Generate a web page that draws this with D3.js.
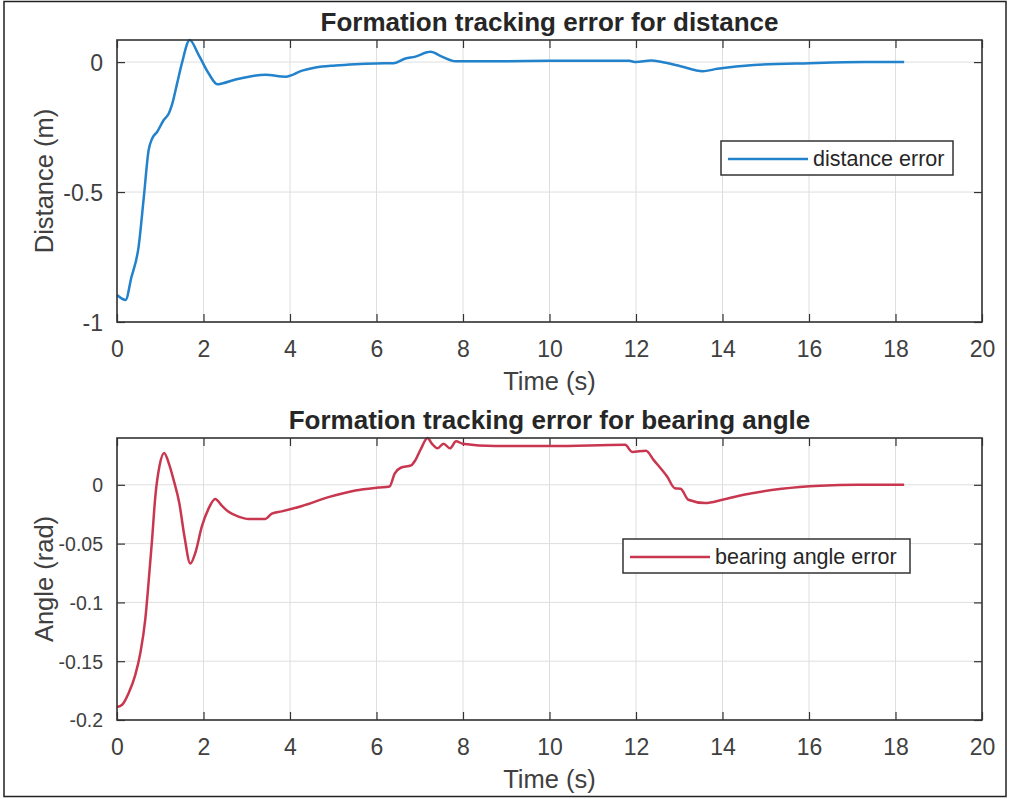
<!DOCTYPE html>
<html><head><meta charset="utf-8">
<script src="https://cdn.jsdelivr.net/npm/d3@7"></script>
<style>
html,body{margin:0;padding:0;background:#fff;}
svg{display:block;font-family:"Liberation Sans",Arial,Helvetica,sans-serif;}
</style></head>
<body>
<svg id="c" width="1010" height="799"></svg>
<script>
// ---- data ----
const distTime = [0,0.2,0.33,0.5,0.62,0.73,0.81,0.93,1.08,1.2,1.27,1.39,1.5,1.68,1.89,2.12,2.32,2.43,2.74,3.05,3.43,3.9,4.28,4.59,5.05,5.51,5.98,6.4,6.67,6.9,7.17,7.25,7.5,7.83,8.77,10.05,11.84,12.0,12.35,12.6,13.03,13.54,13.88,14.73,16.01,17.29,18.2];
const distError = [-0.896,-0.915,-0.83,-0.71,-0.52,-0.34,-0.295,-0.268,-0.223,-0.197,-0.165,-0.082,-0.005,0.085,0.027,-0.044,-0.085,-0.082,-0.067,-0.056,-0.049,-0.056,-0.033,-0.021,-0.013,-0.008,-0.005,-0.004,0.014,0.021,0.038,0.04,0.022,0.003,0.003,0.005,0.005,0.0,0.006,0.0,-0.016,-0.035,-0.026,-0.011,-0.004,0.0,0.0];
const angTime = [0,0.12,0.27,0.42,0.54,0.655,0.73,0.81,0.886,0.98,1.09,1.2,1.31,1.44,1.56,1.695,1.81,1.965,2.12,2.27,2.43,2.58,2.81,3.04,3.43,3.58,3.81,4.28,4.89,5.51,6.05,6.3,6.42,6.56,6.8,6.9,7.02,7.18,7.28,7.41,7.55,7.7,7.84,7.99,8.74,10.07,11.75,11.91,12.23,12.41,12.72,12.9,13.03,13.21,13.6,14.0,14.49,15.37,16.26,17.14,18.2];
const angError = [-0.189,-0.187,-0.177,-0.162,-0.143,-0.114,-0.083,-0.047,-0.010,0.0155,0.027,0.018,0.004,-0.0155,-0.044,-0.067,-0.058,-0.035,-0.020,-0.012,-0.018,-0.023,-0.027,-0.029,-0.029,-0.0245,-0.0226,-0.018,-0.0105,-0.0048,-0.0023,-0.0014,0.0095,0.0145,0.0165,0.021,0.030,0.0398,0.035,0.031,0.035,0.031,0.037,0.035,0.033,0.033,0.034,0.028,0.029,0.021,0.007,-0.003,-0.0034,-0.0127,-0.0155,-0.0127,-0.0085,-0.0034,-0.0008,0.0,0.0];
const xTicks = [0,2,4,6,8,10,12,14,16,18,20];
const xTickLabels = ["0","2","4","6","8","10","12","14","16","18","20"];
const distYTicks = [-1,-0.5,0];
const distYTickLabels = ["-1","-0.5","0"];
const angYTicks = [-0.2,-0.15,-0.1,-0.05,0];
const angYTickLabels = ["-0.2","-0.15","-0.1","-0.05","0"];

const svg = d3.select("#c");
svg.append("rect").attr("x",4).attr("y",1.5).attr("width",1002).attr("height",795)
  .attr("fill","#fff").attr("stroke","#222").attr("stroke-width",1.5);

function panel(o){
  const L=117,R=982,T=o.top,B=o.top+282;
  const x=d3.scaleLinear().domain([0,20]).range([L,R]);
  const y=d3.scaleLinear().domain([o.ymin,d3.max(o.vals)]).range([B,T]);
  const g=svg.append("g");
  // grid
  g.selectAll(".gx").data(o.xt).join("line").attr("x1",d=>x(d)).attr("x2",d=>x(d)).attr("y1",T).attr("y2",B)
    .attr("stroke","#dedede").attr("stroke-width",1);
  g.selectAll(".gy").data(o.yt).join("line").attr("y1",d=>y(d)).attr("y2",d=>y(d)).attr("x1",L).attr("x2",R)
    .attr("stroke","#dedede").attr("stroke-width",1);
  // axes
  const ax=d3.axisBottom(x).tickValues(o.xt).tickFormat((d,i)=>o.xl[i]).tickSizeInner(-8).tickSizeOuter(0).tickPadding(14);
  const axT=d3.axisTop(x).tickValues(o.xt).tickFormat("").tickSizeInner(-8).tickSizeOuter(0);
  const ay=d3.axisLeft(y).tickValues(o.yt).tickFormat((d,i)=>o.yl[i]).tickSizeInner(-8).tickSizeOuter(0).tickPadding(14);
  const ayR=d3.axisRight(y).tickValues(o.yt).tickFormat("").tickSizeInner(-8).tickSizeOuter(0);
  const gb=g.append("g").attr("transform",`translate(0,${B})`).call(ax);
  const gt=g.append("g").attr("transform",`translate(0,${T})`).call(axT);
  const gl=g.append("g").attr("transform",`translate(${L},0)`).call(ay);
  const gr=g.append("g").attr("transform",`translate(${R},0)`).call(ayR);
  [gb,gt,gl,gr].forEach(s=>{
    s.select(".domain").remove();
    s.selectAll(".tick line").attr("stroke","#333").attr("stroke-width",1.2);
    s.selectAll("text").attr("font-size",o.tickFs).attr("fill","#404040").attr("font-family","Liberation Sans, Arial, sans-serif");
  });
  gb.selectAll("text").attr("font-size",23).attr("dy",null).attr("y",35);
  gl.selectAll("text").attr("dy","0.35em");
  // line
  const line=d3.line().x((d,i)=>x(o.t[i])).y(d=>y(d)).curve(d3.curveMonotoneX);
  g.append("path").datum(o.vals).attr("d",line).attr("fill","none").attr("stroke",o.color).attr("stroke-width",2.5).attr("stroke-linejoin","round");
  // box
  g.append("rect").attr("x",L).attr("y",T).attr("width",R-L).attr("height",B-T).attr("fill","none").attr("stroke","#333").attr("stroke-width",1.6);
  // title
  g.append("text").attr("x",(L+R)/2).attr("y",T-9).attr("text-anchor","middle").attr("font-size",26).attr("font-weight","bold").attr("fill","#262626").text(o.title);
  // xlabel
  g.append("text").attr("x",(L+R)/2).attr("y",B+68).attr("text-anchor","middle").attr("font-size",25.5).attr("fill","#404040").text("Time (s)");
  // ylabel
  g.append("text").attr("transform",`translate(${o.ylx},${(T+B)/2}) rotate(-90)`).attr("text-anchor","middle").attr("font-size",25.5).attr("fill","#404040").text(o.ylabel);
  // legend
  const lg=o.leg;
  g.append("rect").attr("x",lg.x).attr("y",lg.y).attr("width",lg.w).attr("height",34).attr("fill","#fff").attr("stroke","#333").attr("stroke-width",1.5);
  g.append("line").attr("x1",lg.x+7).attr("x2",lg.x+87).attr("y1",lg.y+18).attr("y2",lg.y+18).attr("stroke",o.color).attr("stroke-width",2.5);
  g.append("text").attr("x",lg.x+92).attr("y",lg.y+25).attr("font-size",21.5).attr("fill","#262626").text(o.legText);
}

panel({top:40,ymin:-1,t:distTime,vals:distError,xt:xTicks,xl:xTickLabels,yt:distYTicks,yl:distYTickLabels,
  color:"#2282cc",title:"Formation tracking error for distance",ylabel:"Distance (m)",ylx:53,tickFs:23,
  leg:{x:721,y:141,w:232},legText:"distance error"});
panel({top:438,ymin:-0.2,t:angTime,vals:angError,xt:xTicks,xl:xTickLabels,yt:angYTicks,yl:angYTickLabels,
  color:"#c8374f",title:"Formation tracking error for bearing angle",ylabel:"Angle (rad)",ylx:53,tickFs:19.5,
  leg:{x:623,y:539,w:287},legText:"bearing angle error"});
</script>
</body></html>
